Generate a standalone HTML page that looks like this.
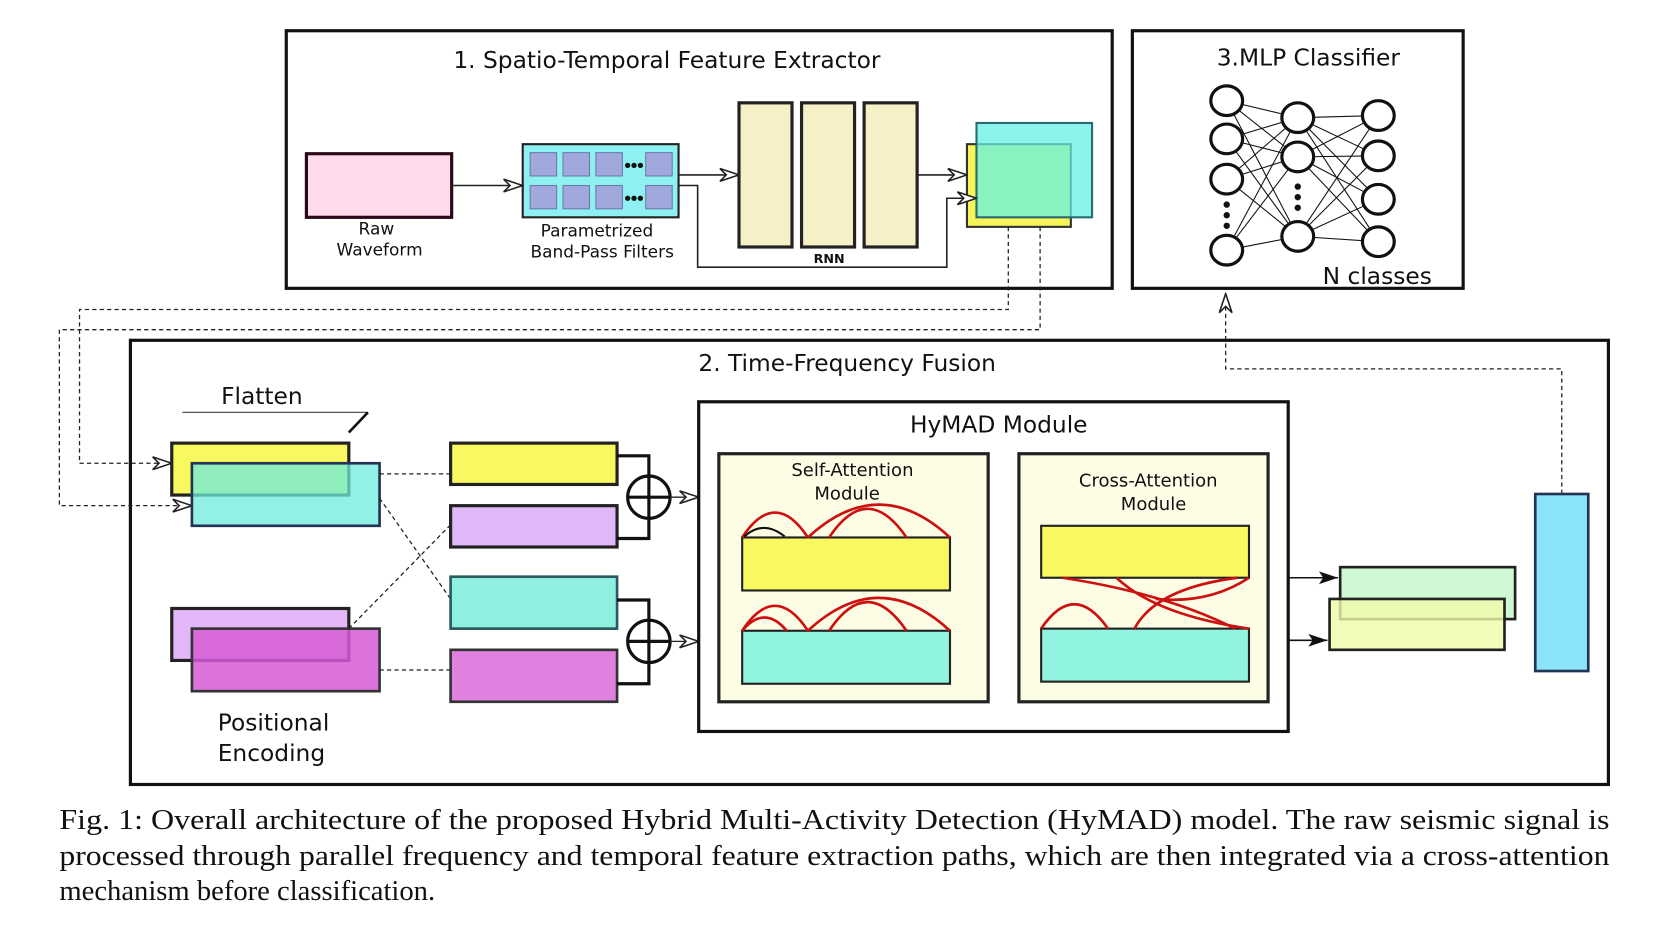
<!DOCTYPE html>
<html><head><meta charset="utf-8"><style>
html,body{margin:0;padding:0;background:#fff;}
svg{display:block;}
text{font-family:"DejaVu Sans","Liberation Sans",sans-serif;fill:#111;}
.cap{font-family:"Liberation Serif",serif;font-size:27px;}
</style></head><body>
<svg width="1654" height="935" viewBox="0 0 1560 882" preserveAspectRatio="none" xmlns="http://www.w3.org/2000/svg">
<defs>
<marker id="oa" viewBox="0 0 20 14" refX="19" refY="7" markerWidth="20" markerHeight="14" markerUnits="userSpaceOnUse" orient="auto">
<path d="M1,1 L19,7 L1,13 L7,7 Z" fill="#fff" stroke="#222" stroke-width="1.5"/></marker>
<marker id="fa" viewBox="0 0 20 14" refX="19" refY="7" markerWidth="20" markerHeight="14" markerUnits="userSpaceOnUse" orient="auto">
<path d="M1,1 L19,7 L1,13 L5,7 Z" fill="#111"/></marker>
</defs>
<g fill="none" stroke="#111" stroke-width="3">
<rect x="270" y="29" width="779" height="243"/>
<rect x="1068" y="29" width="312" height="243"/>
<rect x="123" y="321" width="1394" height="419"/>
</g>
<text x="629" y="64" font-size="22" text-anchor="middle">1. Spatio-Temporal Feature Extractor</text>
<text x="1234" y="62" font-size="22" text-anchor="middle">3.MLP Classifier</text>
<text x="799" y="350" font-size="22" text-anchor="middle">2. Time-Frequency Fusion</text>

<!-- Section 1 -->
<rect x="289" y="145" width="137" height="60" fill="#ffd9ec" stroke="#2a0a1a" stroke-width="3"/>
<text x="355" y="221" font-size="16" text-anchor="middle">Raw</text>
<text x="358" y="241" font-size="16" text-anchor="middle">Waveform</text>
<rect x="493" y="136" width="147" height="69" fill="#8ef0f0" stroke="#222" stroke-width="2"/>
<g fill="#a0a8dc" stroke="#6a7aa8" stroke-width="1">
<rect x="500" y="144" width="25" height="22"/><rect x="531" y="144" width="25" height="22"/><rect x="562" y="144" width="25" height="22"/><rect x="609" y="144" width="25" height="22"/>
<rect x="500" y="175" width="25" height="22"/><rect x="531" y="175" width="25" height="22"/><rect x="562" y="175" width="25" height="22"/><rect x="609" y="175" width="25" height="22"/>
</g>
<g fill="#111"><circle cx="592" cy="156" r="2.5"/><circle cx="598" cy="156" r="2.5"/><circle cx="604" cy="156" r="2.5"/>
<circle cx="592" cy="187" r="2.5"/><circle cx="598" cy="187" r="2.5"/><circle cx="604" cy="187" r="2.5"/></g>
<text x="563" y="223" font-size="16" text-anchor="middle">Parametrized</text>
<text x="568" y="243" font-size="16" text-anchor="middle">Band-Pass Filters</text>
<g fill="#f6f0c6" stroke="#222" stroke-width="3">
<rect x="697" y="97" width="50" height="136"/><rect x="756" y="97" width="50" height="136"/><rect x="815" y="97" width="50" height="136"/>
</g>
<text x="782" y="248" font-size="12" text-anchor="middle" font-weight="bold">RNN</text>
<rect x="912" y="136" width="98" height="78" fill="#f5f55a" stroke="#333" stroke-width="2"/>
<rect x="921" y="116" width="109" height="89" fill="rgba(100,240,225,0.75)" stroke="#2a6a70" stroke-width="2"/>
<g fill="none" stroke="#222" stroke-width="1.5">
<line x1="426" y1="175" x2="493" y2="175" marker-end="url(#oa)"/>
<line x1="640" y1="165" x2="697" y2="165" marker-end="url(#oa)"/>
<polyline points="640,175 658,175 658,252 893,252 893,187 921,187" marker-end="url(#oa)"/>
<line x1="865" y1="165" x2="912" y2="165" marker-end="url(#oa)"/>
</g>
<g fill="none" stroke="#222" stroke-width="1.2" stroke-dasharray="4,3">
<polyline points="951,214 951,292 75,292 75,437 162,437" marker-end="url(#oa)"/>
<polyline points="981,214 981,311 56,311 56,477 181,477" marker-end="url(#oa)"/>
<polyline points="1473,466 1473,348 1156,348 1156,277" marker-end="url(#oa)"/>
</g>

<!-- MLP -->
<g stroke="#111" stroke-width="1">
<line x1="1157" y1="95" x2="1224" y2="111"/><line x1="1157" y1="95" x2="1224" y2="148"/><line x1="1157" y1="95" x2="1224" y2="223"/>
<line x1="1157" y1="131" x2="1224" y2="111"/><line x1="1157" y1="131" x2="1224" y2="148"/><line x1="1157" y1="131" x2="1224" y2="223"/>
<line x1="1157" y1="169" x2="1224" y2="111"/><line x1="1157" y1="169" x2="1224" y2="148"/><line x1="1157" y1="169" x2="1224" y2="223"/>
<line x1="1157" y1="236" x2="1224" y2="111"/><line x1="1157" y1="236" x2="1224" y2="148"/><line x1="1157" y1="236" x2="1224" y2="223"/>
<line x1="1224" y1="111" x2="1300" y2="109"/><line x1="1224" y1="111" x2="1300" y2="147"/><line x1="1224" y1="111" x2="1300" y2="188"/><line x1="1224" y1="111" x2="1300" y2="228"/>
<line x1="1224" y1="148" x2="1300" y2="109"/><line x1="1224" y1="148" x2="1300" y2="147"/><line x1="1224" y1="148" x2="1300" y2="188"/><line x1="1224" y1="148" x2="1300" y2="228"/>
<line x1="1224" y1="223" x2="1300" y2="109"/><line x1="1224" y1="223" x2="1300" y2="147"/><line x1="1224" y1="223" x2="1300" y2="188"/><line x1="1224" y1="223" x2="1300" y2="228"/>
</g>
<g fill="#fff" stroke="#111" stroke-width="3">
<ellipse cx="1157" cy="95" rx="15" ry="14"/><ellipse cx="1157" cy="131" rx="15" ry="14"/><ellipse cx="1157" cy="169" rx="15" ry="14"/><ellipse cx="1157" cy="236" rx="15" ry="14"/>
<ellipse cx="1224" cy="111" rx="15" ry="14"/><ellipse cx="1224" cy="148" rx="15" ry="14"/><ellipse cx="1224" cy="223" rx="15" ry="14"/>
<ellipse cx="1300" cy="109" rx="15" ry="14"/><ellipse cx="1300" cy="147" rx="15" ry="14"/><ellipse cx="1300" cy="188" rx="15" ry="14"/><ellipse cx="1300" cy="228" rx="15" ry="14"/>
</g>
<g fill="#111"><circle cx="1157" cy="193" r="3"/><circle cx="1157" cy="203" r="3"/><circle cx="1157" cy="213" r="3"/>
<circle cx="1224" cy="176" r="3"/><circle cx="1224" cy="186" r="3"/><circle cx="1224" cy="196" r="3"/></g>
<text x="1299" y="268" font-size="22" text-anchor="middle">N classes</text>

<!-- Section 2 left -->
<text x="247" y="381" font-size="22" text-anchor="middle">Flatten</text>
<line x1="172" y1="389" x2="347" y2="389" stroke="#555" stroke-width="1.2"/>
<line x1="347" y1="389" x2="329" y2="408" stroke="#111" stroke-width="2.5"/>
<rect x="162" y="418" width="167" height="49" fill="#f8f860" stroke="#222" stroke-width="3"/>
<rect x="181" y="437" width="177" height="59" fill="rgba(110,235,220,0.75)" stroke="#235" stroke-width="2.5"/>
<rect x="162" y="574" width="167" height="49" fill="#e4b8f8" stroke="#222" stroke-width="3"/>
<rect x="181" y="593" width="177" height="59" fill="rgba(214,90,214,0.85)" stroke="#333" stroke-width="2.5"/>
<text x="258" y="689" font-size="22" text-anchor="middle">Positional</text>
<text x="256" y="718" font-size="22" text-anchor="middle">Encoding</text>
<g fill="none" stroke="#222" stroke-width="1.2" stroke-dasharray="4,3">
<line x1="358" y1="447" x2="425" y2="447"/><line x1="358" y1="632" x2="425" y2="632"/>
<line x1="358" y1="470" x2="425" y2="565"/><line x1="329" y1="593" x2="425" y2="495"/>
</g>
<rect x="425" y="418" width="157" height="39" fill="#f8f860" stroke="#222" stroke-width="3"/>
<rect x="425" y="477" width="157" height="39" fill="#e0b8f8" stroke="#222" stroke-width="3"/>
<rect x="425" y="544" width="157" height="49" fill="#90f0e0" stroke="#2a5a60" stroke-width="2.5"/>
<rect x="425" y="613" width="157" height="49" fill="#e080e0" stroke="#333" stroke-width="2.5"/>
<g fill="none" stroke="#111" stroke-width="3">
<polyline points="582,430 612,430 612,508 582,508"/>
<polyline points="582,566 612,566 612,645 582,645"/>
</g>
<g fill="#fff" stroke="#111" stroke-width="3">
<circle cx="612" cy="469" r="20"/><circle cx="612" cy="605" r="20"/>
</g>
<g stroke="#111" stroke-width="3"><line x1="592" y1="469" x2="632" y2="469"/><line x1="612" y1="449" x2="612" y2="489"/>
<line x1="592" y1="605" x2="632" y2="605"/><line x1="612" y1="585" x2="612" y2="625"/></g>
<line x1="632" y1="469" x2="659" y2="469" stroke="#222" stroke-width="1.2" marker-end="url(#oa)"/>
<line x1="632" y1="605" x2="659" y2="605" stroke="#222" stroke-width="1.2" marker-end="url(#oa)"/>

<!-- HyMAD -->
<rect x="659" y="379" width="556" height="311" fill="#fff" stroke="#111" stroke-width="3"/>
<text x="942" y="408" font-size="22" text-anchor="middle">HyMAD Module</text>
<rect x="678" y="428" width="254" height="234" fill="#fdfde6" stroke="#222" stroke-width="3"/>
<rect x="961" y="428" width="235" height="234" fill="#fdfde6" stroke="#222" stroke-width="3"/>
<text x="804" y="449" font-size="17" text-anchor="middle">Self-Attention</text>
<text x="799" y="471" font-size="17" text-anchor="middle">Module</text>
<text x="1083" y="459" font-size="17" text-anchor="middle">Cross-Attention</text>
<text x="1088" y="481" font-size="17" text-anchor="middle">Module</text>
<rect x="700" y="507" width="196" height="50" fill="#f8f860" stroke="#222" stroke-width="2"/>
<rect x="700" y="595" width="196" height="50" fill="#90f4e0" stroke="#222" stroke-width="2"/>
<rect x="982" y="496" width="196" height="49" fill="#f8f860" stroke="#222" stroke-width="2"/>
<rect x="982" y="593" width="196" height="50" fill="#90f4e0" stroke="#222" stroke-width="2"/>
<g fill="none" stroke="#cc1111" stroke-width="2.5">
<path d="M700,507 Q731,460 762,507"/><path d="M762,507 Q829,445 896,507"/><path d="M782,507 Q818,453 855,507"/>
<path d="M700,595 Q731,548 762,595"/><path d="M700,595 Q721,570 742,595"/><path d="M762,595 Q829,533 896,595"/><path d="M782,595 Q818,541 855,595"/>
<path d="M982,593 Q1013,547 1045,593"/>
<path d="M1002,545 Q1100,560 1165,593"/><path d="M1053,545 Q1090,580 1178,593"/>
<path d="M1167,545 Q1090,555 1070,593"/><path d="M1178,545 Q1140,570 1090,565"/>
</g>
<path d="M702,506 Q720,490 740,506" fill="none" stroke="#111" stroke-width="2"/>

<!-- right -->
<line x1="1215" y1="545" x2="1262" y2="545" stroke="#111" stroke-width="1.5" marker-end="url(#fa)"/>
<line x1="1215" y1="604" x2="1252" y2="604" stroke="#111" stroke-width="1.5" marker-end="url(#fa)"/>
<rect x="1264" y="535" width="165" height="49" fill="#d0f8d4" stroke="#222" stroke-width="2.5"/>
<rect x="1254" y="565" width="165" height="48" fill="rgba(240,250,170,0.8)" stroke="#222" stroke-width="2.5"/>
<rect x="1448" y="466" width="50" height="167" fill="#8ce4f8" stroke="#235" stroke-width="2.5"/>

<!-- caption -->
<text class="cap" x="56" y="782" textLength="1462" lengthAdjust="spacingAndGlyphs">Fig. 1: Overall architecture of the proposed Hybrid Multi-Activity Detection (HyMAD) model. The raw seismic signal is</text>
<text class="cap" x="56" y="816" textLength="1462" lengthAdjust="spacingAndGlyphs">processed through parallel frequency and temporal feature extraction paths, which are then integrated via a cross-attention</text>
<text class="cap" x="56" y="849">mechanism before classification.</text>
</svg>
</body></html>
